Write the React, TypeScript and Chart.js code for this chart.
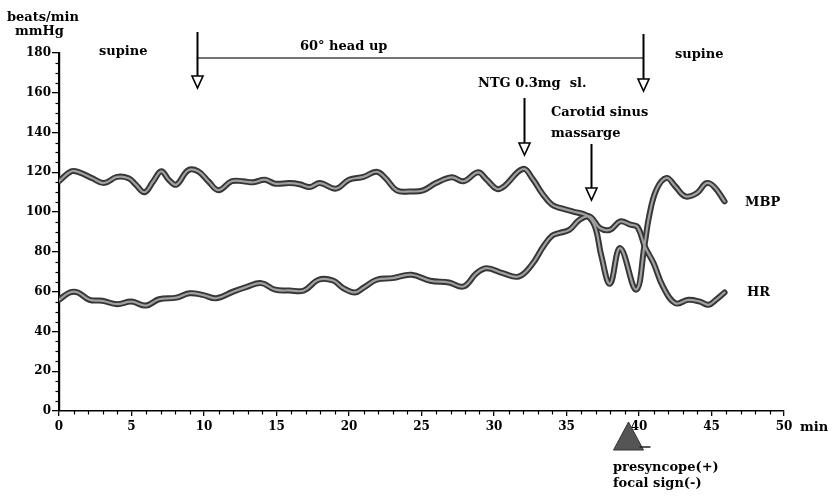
import { useEffect, useRef } from 'react';
import { Chart, registerables } from 'chart.js';

Chart.register(...registerables);

// ---- data (minutes, values) ----
const mbpTime = [0, 0.85, 1.4, 2.3, 3.1, 4.0, 4.8, 5.3, 5.9, 6.5, 7.06, 7.6, 8.1, 8.9, 9.6, 10.3, 11.0, 11.9, 12.7, 13.4, 14.2, 14.9, 15.9, 16.6, 17.3, 18.0, 19.1, 20.0, 21.0, 21.9, 22.5, 23.3, 24.2, 25.1, 26.0, 27.1, 27.9, 28.9, 29.5, 30.2, 30.7, 32.0, 32.7, 33.3, 34.0, 34.6, 35.4, 36.5, 37.0, 37.4, 38.0, 38.7, 39.8, 40.4, 40.7, 41.2, 41.9, 42.5, 43.2, 44.0, 44.65, 45.2, 45.9];
const mbpValues = [115.5, 120.5, 120, 117, 114.6, 117.7, 117, 113.8, 110, 115.5, 120.5, 116, 113.8, 121, 120.5, 115.5, 111, 115.5, 115.5, 115, 116.3, 114.3, 114.6, 114, 112.6, 114.6, 111.8, 116.3, 117.7, 120.3, 117.2, 110.9, 110.4, 110.9, 114.6, 117.5, 115.5, 120, 116.3, 111.6, 113, 121.7, 116.3, 109.6, 103.7, 102, 100.4, 97.8, 92, 78, 64, 81.9, 61, 84.4, 98, 111.3, 117.2, 113, 107.9, 109.6, 114.6, 112.6, 105.4];

const hrTime = [0, 0.74, 1.3, 2.1, 3.0, 4.0, 5.0, 6.0, 6.9, 8.1, 9.0, 9.9, 10.85, 12.0, 12.9, 13.95, 14.9, 15.9, 16.9, 17.9, 18.9, 19.6, 20.4, 21.0, 21.9, 23.0, 24.3, 25.6, 26.9, 27.9, 28.8, 29.5, 30.6, 31.7, 32.6, 33.4, 34.0, 34.5, 35.2, 35.9, 36.6, 37.3, 38.0, 38.7, 39.4, 39.9, 40.4, 41.0, 41.65, 42.5, 43.4, 44.2, 44.8, 45.3, 45.9];
const hrValues = [55.9, 59.6, 59.6, 55.9, 55.4, 53.7, 55, 53, 56.2, 57, 59.2, 58.4, 56.7, 60, 62.3, 64.3, 61, 60.6, 60.6, 66, 65.6, 61.8, 59.6, 62, 66, 66.8, 68.5, 65.5, 64.6, 62.6, 69.3, 71.8, 69.3, 67.6, 73.5, 82.7, 88.1, 89.5, 91.1, 96.2, 97.8, 92, 91.1, 95.3, 93.7, 92.5, 82.7, 74.4, 62.6, 54.2, 55.9, 55, 53.4, 55.9, 59.6];

const yMin = 0;
const yMax = 180;
const yStep = 20;
const yMinorStep = 5;
const xMin = 0;
const xMax = 50;
const xStep = 5;
const xMinorStep = 1;

// event times (minutes)
const tiltStart = 9.5;
const tiltEnd = 40.3;
const ntgTime = 32.1;
const csmTime = 36.7;
const presyncopeTime = 39.0;

const FONT = 'bold 13px "DejaVu Serif"';

function toPoints(t: number[], v: number[]) {
  return t.map((x, i) => ({ x, y: v[i] }));
}

const annotationPlugin = {
  id: 'annotations',
  afterDraw(chart: any) {
    const ctx = chart.ctx as CanvasRenderingContext2D;
    const xs = chart.scales.x;
    const ys = chart.scales.y;
    const left = chart.chartArea.left;
    const bottom = chart.chartArea.bottom;
    ctx.save();
    // minor ticks
    ctx.strokeStyle = '#000';
    ctx.lineWidth = 1.2;
    for (let v = yMin; v <= yMax; v += yMinorStep) {
      if (v % yStep === 0) continue;
      const y = Math.round(ys.getPixelForValue(v)) + 0.5;
      ctx.beginPath();
      ctx.moveTo(left - 3.5, y);
      ctx.lineTo(left, y);
      ctx.stroke();
    }
    for (let v = xMin; v <= xMax; v += xMinorStep) {
      if (v % xStep === 0) continue;
      const x = Math.round(xs.getPixelForValue(v)) + 0.5;
      ctx.beginPath();
      ctx.moveTo(x, bottom);
      ctx.lineTo(x, bottom + 3.5);
      ctx.stroke();
    }

    const text = (s: string, x: number, y: number) => {
      ctx.font = FONT;
      ctx.fillStyle = '#000';
      ctx.textAlign = 'left';
      ctx.textBaseline = 'middle';
      ctx.fillText(s, x, y);
    };
    const arrow = (t: number, top: number, tip: number) => {
      const x = Math.round(xs.getPixelForValue(t)) + 0.5;
      ctx.strokeStyle = '#000';
      ctx.lineWidth = 2;
      ctx.beginPath();
      ctx.moveTo(x, top);
      ctx.lineTo(x, tip - 12);
      ctx.stroke();
      ctx.lineWidth = 1.6;
      ctx.fillStyle = '#fff';
      ctx.beginPath();
      ctx.moveTo(x - 5.5, tip - 12);
      ctx.lineTo(x + 5.5, tip - 12);
      ctx.lineTo(x, tip);
      ctx.closePath();
      ctx.fill();
      ctx.stroke();
    };

    // axis titles
    text('beats/min', 7, 18);
    text('mmHg', 15, 32);
    text('min', 800, 428);

    // tilt period
    const xa = xs.getPixelForValue(tiltStart);
    const xb = xs.getPixelForValue(tiltEnd);
    ctx.strokeStyle = '#444';
    ctx.lineWidth = 1.6;
    ctx.beginPath();
    ctx.moveTo(xa, 58);
    ctx.lineTo(xb, 58);
    ctx.stroke();
    arrow(tiltStart, 32, 88);
    arrow(tiltEnd, 34, 91);
    text('supine', 99, 52);
    text('60° head up', 300, 47);
    text('supine', 675, 55);

    // NTG
    text('NTG 0.3mg  sl.', 478, 84);
    arrow(ntgTime, 98, 155);

    // CSM
    text('Carotid sinus', 551, 113);
    text('massarge', 551, 134);
    arrow(csmTime, 144, 200);

    // series labels
    text('MBP', 745, 203);
    text('HR', 747, 293);

    // presyncope marker
    const px = xs.getPixelForValue(presyncopeTime);
    ctx.fillStyle = '#555';
    ctx.strokeStyle = '#333';
    ctx.lineWidth = 1;
    ctx.beginPath();
    ctx.moveTo(px + 4, 422);
    ctx.lineTo(px + 19, 450);
    ctx.lineTo(px - 11, 450);
    ctx.closePath();
    ctx.fill();
    ctx.stroke();
    ctx.strokeStyle = '#222';
    ctx.lineWidth = 1.5;
    ctx.beginPath();
    ctx.moveTo(px + 15, 447);
    ctx.lineTo(px + 26, 447);
    ctx.stroke();
    text('presyncope(+)', 613, 468);
    text('focal sign(-)', 613, 484);
    ctx.restore();
  },
};

export default function App() {
  const ref = useRef<HTMLCanvasElement | null>(null);
  useEffect(() => {
    if (!ref.current) return;
    const mbp = toPoints(mbpTime, mbpValues);
    const hr = toPoints(hrTime, hrValues);
    const common = { pointRadius: 0, tension: 0.4, fill: false, borderCapStyle: 'round', borderJoinStyle: 'round' };
    const chart = new Chart(ref.current, {
      type: 'line',
      data: {
        datasets: [
          { label: 'MBP', data: mbp, borderColor: '#a0a0a0', borderWidth: 2.2, order: 0, ...common },
          { label: 'HR', data: hr, borderColor: '#a0a0a0', borderWidth: 2.2, order: 0, ...common },
          { label: 'MBP outline', data: mbp, borderColor: '#363636', borderWidth: 6, order: 1, ...common },
          { label: 'HR outline', data: hr, borderColor: '#363636', borderWidth: 6, order: 1, ...common },
        ] as any,
      },
      options: {
        animation: false,
        responsive: true,
        maintainAspectRatio: false,
        layout: { padding: { top: 53, right: 48, left: 0, bottom: 0 } },
        plugins: { legend: { display: false }, tooltip: { enabled: false } },
        scales: {
          x: {
            type: 'linear',
            min: xMin,
            max: xMax,
            afterFit: (s: any) => { s.height = 89; },
            grid: { drawOnChartArea: false, drawTicks: true, tickLength: 5, color: '#000', lineWidth: 1.3 },
            border: { display: true, color: '#000', width: 1.6 },
            ticks: { stepSize: xStep, padding: 4, autoSkip: false, color: '#000', font: { family: 'DejaVu Serif', size: 12, weight: 'bold' }, maxRotation: 0 },
          },
          y: {
            min: yMin,
            max: yMax,
            afterFit: (s: any) => { s.width = 59; },
            grid: { drawOnChartArea: false, drawTicks: true, tickLength: 7, color: '#000', lineWidth: 1.3 },
            border: { display: true, color: '#000', width: 2.2 },
            ticks: { stepSize: yStep, padding: 1, color: '#000', font: { family: 'DejaVu Serif', size: 12, weight: 'bold' } },
          },
        },
      } as any,
      plugins: [annotationPlugin],
    });
    return () => chart.destroy();
  }, []);
  return (
    <div style={{ position: 'absolute', left: 0, top: 0, width: 832, height: 500, background: '#fff' }}>
      <canvas ref={ref} />
    </div>
  );
}
